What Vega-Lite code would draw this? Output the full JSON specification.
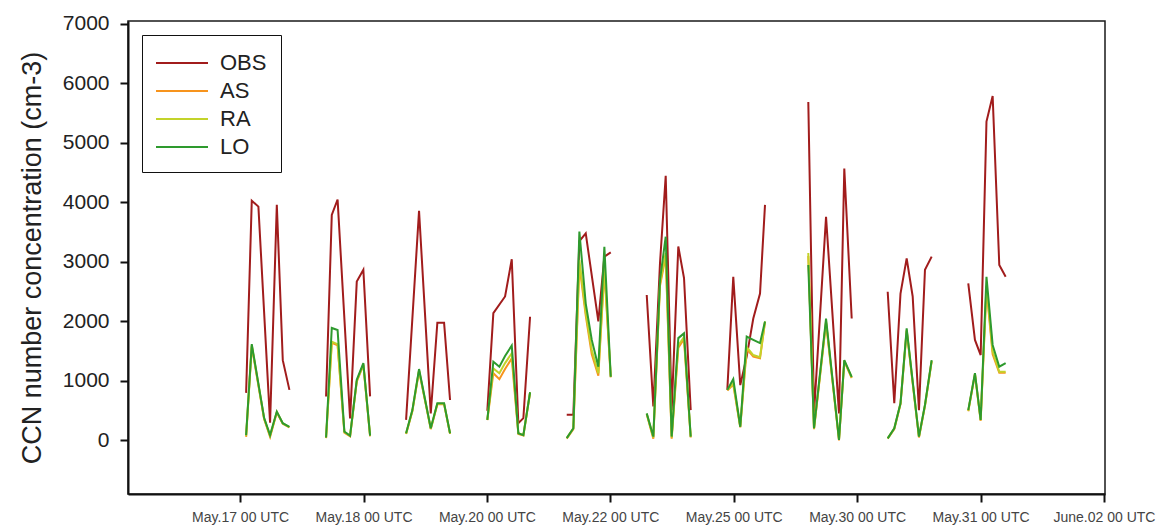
{
  "$schema": "https://vega.github.io/schema/vega-lite/v6.json",
  "autosize": "none",
  "padding": {"left": 128, "top": 21, "right": 55, "bottom": 35},
  "width": 977,
  "height": 473,
  "background": "white",
  "config": {
    "font": "Liberation Sans",
    "view": {"stroke": "#1a1a1a", "strokeWidth": 1.5}
  },
  "data": {"values": [
    {"s":"OBS","g":1,"t":1.17,"v":800},{"s":"OBS","g":1,"t":2.27,"v":4030},{"s":"OBS","g":1,"t":3.56,"v":3930},{"s":"OBS","g":1,"t":5.83,"v":300},{"s":"OBS","g":1,"t":7.14,"v":3960},{"s":"OBS","g":1,"t":8.30,"v":1350},{"s":"OBS","g":1,"t":9.59,"v":850},
    {"s":"OBS","g":2,"t":16.72,"v":740},{"s":"OBS","g":2,"t":17.83,"v":3790},{"s":"OBS","g":2,"t":18.96,"v":4050},{"s":"OBS","g":2,"t":21.39,"v":370},{"s":"OBS","g":2,"t":22.69,"v":2670},{"s":"OBS","g":2,"t":23.97,"v":2870},{"s":"OBS","g":2,"t":25.28,"v":740},
    {"s":"OBS","g":3,"t":32.28,"v":345},{"s":"OBS","g":3,"t":34.80,"v":3860},{"s":"OBS","g":3,"t":37.08,"v":455},{"s":"OBS","g":3,"t":38.36,"v":1980},{"s":"OBS","g":3,"t":39.67,"v":1980},{"s":"OBS","g":3,"t":40.83,"v":680},
    {"s":"OBS","g":4,"t":48.08,"v":500},{"s":"OBS","g":4,"t":49.25,"v":2140},{"s":"OBS","g":4,"t":51.53,"v":2420},{"s":"OBS","g":4,"t":52.83,"v":3045},{"s":"OBS","g":4,"t":54.11,"v":290},{"s":"OBS","g":4,"t":55.09,"v":375},{"s":"OBS","g":4,"t":56.39,"v":2080},
    {"s":"OBS","g":5,"t":63.52,"v":430},{"s":"OBS","g":5,"t":64.81,"v":430},{"s":"OBS","g":5,"t":65.98,"v":3350},{"s":"OBS","g":5,"t":67.22,"v":3480},{"s":"OBS","g":5,"t":69.67,"v":2000},{"s":"OBS","g":5,"t":70.84,"v":3090},{"s":"OBS","g":5,"t":72.08,"v":3160},
    {"s":"OBS","g":6,"t":79.08,"v":2445},{"s":"OBS","g":6,"t":80.36,"v":570},{"s":"OBS","g":6,"t":81.66,"v":2980},{"s":"OBS","g":6,"t":82.77,"v":4450},{"s":"OBS","g":6,"t":83.93,"v":510},{"s":"OBS","g":6,"t":85.22,"v":3260},{"s":"OBS","g":6,"t":86.33,"v":2730},{"s":"OBS","g":6,"t":87.63,"v":510},
    {"s":"OBS","g":7,"t":94.75,"v":850},{"s":"OBS","g":7,"t":95.91,"v":2750},{"s":"OBS","g":7,"t":97.27,"v":930},{"s":"OBS","g":7,"t":98.52,"v":1410},{"s":"OBS","g":7,"t":99.80,"v":2050},{"s":"OBS","g":7,"t":101.11,"v":2470},{"s":"OBS","g":7,"t":102.08,"v":3960},
    {"s":"OBS","g":8,"t":110.50,"v":5690},{"s":"OBS","g":8,"t":111.61,"v":455},{"s":"OBS","g":8,"t":113.95,"v":3760},{"s":"OBS","g":8,"t":116.47,"v":455},{"s":"OBS","g":8,"t":117.50,"v":4570},{"s":"OBS","g":8,"t":118.94,"v":2050},
    {"s":"OBS","g":9,"t":125.94,"v":2500},{"s":"OBS","g":9,"t":127.22,"v":625},{"s":"OBS","g":9,"t":128.43,"v":2470},{"s":"OBS","g":9,"t":129.63,"v":3060},{"s":"OBS","g":9,"t":130.80,"v":2420},{"s":"OBS","g":9,"t":132.02,"v":510},{"s":"OBS","g":9,"t":133.19,"v":2870},{"s":"OBS","g":9,"t":134.49,"v":3090},
    {"s":"OBS","g":10,"t":141.61,"v":2640},{"s":"OBS","g":10,"t":142.91,"v":1690},{"s":"OBS","g":10,"t":144.02,"v":1435},{"s":"OBS","g":10,"t":145.15,"v":5360},{"s":"OBS","g":10,"t":146.35,"v":5790},{"s":"OBS","g":10,"t":147.64,"v":2950},{"s":"OBS","g":10,"t":148.88,"v":2750},

    {"s":"AS","g":1,"t":1.17,"v":60},{"s":"AS","g":1,"t":2.27,"v":1580},{"s":"AS","g":1,"t":4.67,"v":360},{"s":"AS","g":1,"t":5.83,"v":60},{"s":"AS","g":1,"t":7.14,"v":470},{"s":"AS","g":1,"t":8.30,"v":280},{"s":"AS","g":1,"t":9.59,"v":220},
    {"s":"AS","g":2,"t":16.72,"v":40},{"s":"AS","g":2,"t":17.83,"v":1640},{"s":"AS","g":2,"t":18.96,"v":1600},{"s":"AS","g":2,"t":20.28,"v":130},{"s":"AS","g":2,"t":21.39,"v":70},{"s":"AS","g":2,"t":22.69,"v":990},{"s":"AS","g":2,"t":23.97,"v":1270},{"s":"AS","g":2,"t":25.28,"v":70},
    {"s":"AS","g":3,"t":32.28,"v":110},{"s":"AS","g":3,"t":33.50,"v":490},{"s":"AS","g":3,"t":34.80,"v":1170},{"s":"AS","g":3,"t":37.08,"v":190},{"s":"AS","g":3,"t":38.36,"v":610},{"s":"AS","g":3,"t":39.67,"v":610},{"s":"AS","g":3,"t":40.83,"v":110},
    {"s":"AS","g":4,"t":48.08,"v":340},{"s":"AS","g":4,"t":49.25,"v":1130},{"s":"AS","g":4,"t":50.42,"v":1030},{"s":"AS","g":4,"t":51.53,"v":1200},{"s":"AS","g":4,"t":52.83,"v":1380},{"s":"AS","g":4,"t":54.11,"v":110},{"s":"AS","g":4,"t":55.09,"v":85},{"s":"AS","g":4,"t":56.39,"v":800},
    {"s":"AS","g":5,"t":63.52,"v":30},{"s":"AS","g":5,"t":64.81,"v":190},{"s":"AS","g":5,"t":65.98,"v":2950},{"s":"AS","g":5,"t":67.22,"v":2100},{"s":"AS","g":5,"t":68.39,"v":1450},{"s":"AS","g":5,"t":69.67,"v":1090},{"s":"AS","g":5,"t":70.84,"v":2850},{"s":"AS","g":5,"t":72.08,"v":1060},
    {"s":"AS","g":6,"t":79.08,"v":440},{"s":"AS","g":6,"t":80.36,"v":30},{"s":"AS","g":6,"t":81.66,"v":2600},{"s":"AS","g":6,"t":82.77,"v":3100},{"s":"AS","g":6,"t":83.93,"v":30},{"s":"AS","g":6,"t":85.22,"v":1560},{"s":"AS","g":6,"t":86.33,"v":1700},{"s":"AS","g":6,"t":87.63,"v":50},
    {"s":"AS","g":7,"t":94.75,"v":840},{"s":"AS","g":7,"t":95.91,"v":940},{"s":"AS","g":7,"t":97.27,"v":220},{"s":"AS","g":7,"t":98.52,"v":1540},{"s":"AS","g":7,"t":99.80,"v":1410},{"s":"AS","g":7,"t":101.11,"v":1380},{"s":"AS","g":7,"t":102.08,"v":1990},
    {"s":"AS","g":8,"t":110.50,"v":3100},{"s":"AS","g":8,"t":111.61,"v":190},{"s":"AS","g":8,"t":113.95,"v":1980},{"s":"AS","g":8,"t":116.47,"v":0},{"s":"AS","g":8,"t":117.50,"v":1330},{"s":"AS","g":8,"t":118.94,"v":1050},
    {"s":"AS","g":9,"t":125.94,"v":30},{"s":"AS","g":9,"t":127.22,"v":190},{"s":"AS","g":9,"t":128.43,"v":610},{"s":"AS","g":9,"t":129.63,"v":1840},{"s":"AS","g":9,"t":132.02,"v":50},{"s":"AS","g":9,"t":133.19,"v":580},{"s":"AS","g":9,"t":134.49,"v":1330},
    {"s":"AS","g":10,"t":141.61,"v":490},{"s":"AS","g":10,"t":142.91,"v":1110},{"s":"AS","g":10,"t":144.02,"v":330},{"s":"AS","g":10,"t":145.15,"v":2550},{"s":"AS","g":10,"t":146.35,"v":1450},{"s":"AS","g":10,"t":147.64,"v":1140},{"s":"AS","g":10,"t":148.88,"v":1140},

    {"s":"RA","g":1,"t":1.17,"v":80},{"s":"RA","g":1,"t":2.27,"v":1600},{"s":"RA","g":1,"t":4.67,"v":370},{"s":"RA","g":1,"t":5.83,"v":80},{"s":"RA","g":1,"t":7.14,"v":480},{"s":"RA","g":1,"t":8.30,"v":285},{"s":"RA","g":1,"t":9.59,"v":225},
    {"s":"RA","g":2,"t":16.72,"v":50},{"s":"RA","g":2,"t":17.83,"v":1660},{"s":"RA","g":2,"t":18.96,"v":1620},{"s":"RA","g":2,"t":20.28,"v":140},{"s":"RA","g":2,"t":21.39,"v":80},{"s":"RA","g":2,"t":22.69,"v":1000},{"s":"RA","g":2,"t":23.97,"v":1280},{"s":"RA","g":2,"t":25.28,"v":80},
    {"s":"RA","g":3,"t":32.28,"v":115},{"s":"RA","g":3,"t":33.50,"v":500},{"s":"RA","g":3,"t":34.80,"v":1180},{"s":"RA","g":3,"t":37.08,"v":200},{"s":"RA","g":3,"t":38.36,"v":615},{"s":"RA","g":3,"t":39.67,"v":615},{"s":"RA","g":3,"t":40.83,"v":115},
    {"s":"RA","g":4,"t":48.08,"v":345},{"s":"RA","g":4,"t":49.25,"v":1210},{"s":"RA","g":4,"t":50.42,"v":1130},{"s":"RA","g":4,"t":51.53,"v":1300},{"s":"RA","g":4,"t":52.83,"v":1465},{"s":"RA","g":4,"t":54.11,"v":120},{"s":"RA","g":4,"t":55.09,"v":90},{"s":"RA","g":4,"t":56.39,"v":810},
    {"s":"RA","g":5,"t":63.52,"v":40},{"s":"RA","g":5,"t":64.81,"v":205},{"s":"RA","g":5,"t":65.98,"v":3030},{"s":"RA","g":5,"t":67.22,"v":2150},{"s":"RA","g":5,"t":68.39,"v":1520},{"s":"RA","g":5,"t":69.67,"v":1130},{"s":"RA","g":5,"t":70.84,"v":2920},{"s":"RA","g":5,"t":72.08,"v":1070},
    {"s":"RA","g":6,"t":79.08,"v":450},{"s":"RA","g":6,"t":80.36,"v":50},{"s":"RA","g":6,"t":81.66,"v":2640},{"s":"RA","g":6,"t":82.77,"v":3150},{"s":"RA","g":6,"t":83.93,"v":50},{"s":"RA","g":6,"t":85.22,"v":1600},{"s":"RA","g":6,"t":86.33,"v":1740},{"s":"RA","g":6,"t":87.63,"v":60},
    {"s":"RA","g":7,"t":94.75,"v":850},{"s":"RA","g":7,"t":95.91,"v":960},{"s":"RA","g":7,"t":97.27,"v":230},{"s":"RA","g":7,"t":98.52,"v":1570},{"s":"RA","g":7,"t":99.80,"v":1435},{"s":"RA","g":7,"t":101.11,"v":1400},{"s":"RA","g":7,"t":102.08,"v":2000},
    {"s":"RA","g":8,"t":110.50,"v":3150},{"s":"RA","g":8,"t":111.61,"v":200},{"s":"RA","g":8,"t":113.95,"v":2000},{"s":"RA","g":8,"t":116.47,"v":20},{"s":"RA","g":8,"t":117.50,"v":1340},{"s":"RA","g":8,"t":118.94,"v":1060},
    {"s":"RA","g":9,"t":125.94,"v":35},{"s":"RA","g":9,"t":127.22,"v":200},{"s":"RA","g":9,"t":128.43,"v":620},{"s":"RA","g":9,"t":129.63,"v":1860},{"s":"RA","g":9,"t":132.02,"v":60},{"s":"RA","g":9,"t":133.19,"v":590},{"s":"RA","g":9,"t":134.49,"v":1340},
    {"s":"RA","g":10,"t":141.61,"v":500},{"s":"RA","g":10,"t":142.91,"v":1120},{"s":"RA","g":10,"t":144.02,"v":340},{"s":"RA","g":10,"t":145.15,"v":2600},{"s":"RA","g":10,"t":146.35,"v":1500},{"s":"RA","g":10,"t":147.64,"v":1155},{"s":"RA","g":10,"t":148.88,"v":1155},

    {"s":"LO","g":1,"t":1.17,"v":90},{"s":"LO","g":1,"t":2.27,"v":1620},{"s":"LO","g":1,"t":4.67,"v":380},{"s":"LO","g":1,"t":5.83,"v":90},{"s":"LO","g":1,"t":7.14,"v":485},{"s":"LO","g":1,"t":8.30,"v":290},{"s":"LO","g":1,"t":9.59,"v":230},
    {"s":"LO","g":2,"t":16.72,"v":50},{"s":"LO","g":2,"t":17.83,"v":1890},{"s":"LO","g":2,"t":18.96,"v":1855},{"s":"LO","g":2,"t":20.28,"v":150},{"s":"LO","g":2,"t":21.39,"v":80},{"s":"LO","g":2,"t":22.69,"v":1020},{"s":"LO","g":2,"t":23.97,"v":1300},{"s":"LO","g":2,"t":25.28,"v":80},
    {"s":"LO","g":3,"t":32.28,"v":120},{"s":"LO","g":3,"t":33.50,"v":510},{"s":"LO","g":3,"t":34.80,"v":1200},{"s":"LO","g":3,"t":37.08,"v":205},{"s":"LO","g":3,"t":38.36,"v":625},{"s":"LO","g":3,"t":39.67,"v":625},{"s":"LO","g":3,"t":40.83,"v":120},
    {"s":"LO","g":4,"t":48.08,"v":345},{"s":"LO","g":4,"t":49.25,"v":1325},{"s":"LO","g":4,"t":50.42,"v":1240},{"s":"LO","g":4,"t":51.53,"v":1420},{"s":"LO","g":4,"t":52.83,"v":1595},{"s":"LO","g":4,"t":54.11,"v":120},{"s":"LO","g":4,"t":55.09,"v":90},{"s":"LO","g":4,"t":56.39,"v":810},
    {"s":"LO","g":5,"t":63.52,"v":40},{"s":"LO","g":5,"t":64.81,"v":205},{"s":"LO","g":5,"t":65.98,"v":3510},{"s":"LO","g":5,"t":67.22,"v":2300},{"s":"LO","g":5,"t":68.39,"v":1690},{"s":"LO","g":5,"t":69.67,"v":1240},{"s":"LO","g":5,"t":70.84,"v":3255},{"s":"LO","g":5,"t":72.08,"v":1070},
    {"s":"LO","g":6,"t":79.08,"v":455},{"s":"LO","g":6,"t":80.36,"v":65},{"s":"LO","g":6,"t":81.66,"v":2700},{"s":"LO","g":6,"t":82.77,"v":3425},{"s":"LO","g":6,"t":83.93,"v":65},{"s":"LO","g":6,"t":85.22,"v":1720},{"s":"LO","g":6,"t":86.33,"v":1800},{"s":"LO","g":6,"t":87.63,"v":65},
    {"s":"LO","g":7,"t":94.75,"v":850},{"s":"LO","g":7,"t":95.91,"v":1030},{"s":"LO","g":7,"t":97.27,"v":230},{"s":"LO","g":7,"t":98.52,"v":1745},{"s":"LO","g":7,"t":99.80,"v":1690},{"s":"LO","g":7,"t":101.11,"v":1635},{"s":"LO","g":7,"t":102.08,"v":2000},
    {"s":"LO","g":8,"t":110.50,"v":2950},{"s":"LO","g":8,"t":111.61,"v":205},{"s":"LO","g":8,"t":113.95,"v":2050},{"s":"LO","g":8,"t":116.47,"v":10},{"s":"LO","g":8,"t":117.50,"v":1350},{"s":"LO","g":8,"t":118.94,"v":1070},
    {"s":"LO","g":9,"t":125.94,"v":35},{"s":"LO","g":9,"t":127.22,"v":205},{"s":"LO","g":9,"t":128.43,"v":625},{"s":"LO","g":9,"t":129.63,"v":1885},{"s":"LO","g":9,"t":132.02,"v":65},{"s":"LO","g":9,"t":133.19,"v":600},{"s":"LO","g":9,"t":134.49,"v":1350},
    {"s":"LO","g":10,"t":141.61,"v":510},{"s":"LO","g":10,"t":142.91,"v":1130},{"s":"LO","g":10,"t":144.02,"v":345},{"s":"LO","g":10,"t":145.15,"v":2750},{"s":"LO","g":10,"t":146.35,"v":1605},{"s":"LO","g":10,"t":147.64,"v":1240},{"s":"LO","g":10,"t":148.88,"v":1300}
  ]},
  "mark": {"type": "line", "strokeWidth": 2, "clip": true},
  "encoding": {
    "x": {
      "field": "t", "type": "quantitative",
      "scale": {"domain": [-21.8, 168.2], "nice": false, "zero": false},
      "axis": {
        "title": null,
        "values": [0, 24, 48, 72, 96, 120, 144, 168],
        "labelExpr": "['May.17 00 UTC','May.18 00 UTC','May.20 00 UTC','May.22 00 UTC','May.25 00 UTC','May.30 00 UTC','May.31 00 UTC','June.02 00 UTC'][round(datum.value/24)]",
        "grid": false,
        "domainColor": "#111", "domainWidth": 2,
        "tickColor": "#111", "tickWidth": 2, "tickSize": 8,
        "labelFontSize": 14, "labelColor": "#444", "labelPadding": 8,
        "labelFlush": false, "labelOverlap": false
      }
    },
    "y": {
      "field": "v", "type": "quantitative",
      "scale": {"domain": [-900, 7050], "nice": false, "zero": false},
      "axis": {
        "title": "CCN number concentration (cm-3)",
        "values": [0, 1000, 2000, 3000, 4000, 5000, 6000, 7000],
        "format": "d",
        "grid": false,
        "domainColor": "#111", "domainWidth": 2,
        "tickColor": "#111", "tickWidth": 2, "tickSize": 8,
        "labelFontSize": 21, "labelColor": "#222", "labelPadding": 11,
        "titleFontSize": 27, "titleFontWeight": "normal", "titleColor": "#222", "titlePadding": 16
      }
    },
    "color": {
      "field": "s", "type": "nominal",
      "scale": {"domain": ["OBS", "AS", "RA", "LO"], "range": ["#A11C1C", "#F7941D", "#C3D32A", "#2E9A2E"]},
      "legend": {
        "title": null,
        "orient": "top-left",
        "offset": 14,
        "padding": 14,
        "strokeColor": "#111",
        "fillColor": "white",
        "symbolType": "M-2,0H2",
        "symbolSize": 676,
        "symbolStrokeWidth": 2,
        "symbolOffset": 12,
        "labelFontSize": 22,
        "labelColor": "#222",
        "labelOffset": 24,
        "rowPadding": 3
      }
    },
    "detail": {"field": "g", "type": "nominal"}
  }
}
